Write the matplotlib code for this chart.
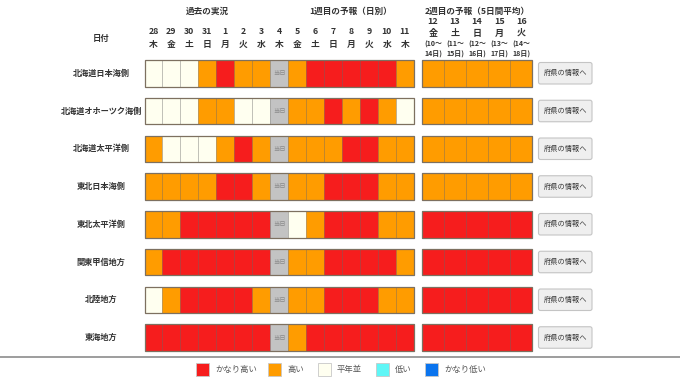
import matplotlib
matplotlib.use("Agg")
import matplotlib.pyplot as plt
from matplotlib.patches import Rectangle, FancyBboxPatch

plt.rcParams['font.family'] = ['Noto Sans CJK JP', 'DejaVu Sans']

# regions (rows)
regions = ['北海道日本海側', '北海道オホーツク海側', '北海道太平洋側', '東北日本海側',
           '東北太平洋側', '関東甲信地方', '北陸地方', '東海地方']

# week 1 columns: past observations + daily forecast
days1 = ['28', '29', '30', '31', '1', '2', '3', '4', '5', '6', '7', '8', '9', '10', '11']
wdays1 = ['木', '金', '土', '日', '月', '火', '水', '木', '金', '土', '日', '月', '火', '水', '木']
today_idx = 7

# week 2 columns: 5-day mean forecast
days2 = ['12', '13', '14', '15', '16']
wdays2 = ['金', '土', '日', '月', '火']
range_from = ['(10～', '(11～', '(12～', '(13～', '(14～']
range_to = ['14日)', '15日)', '16日)', '17日)', '18日)']

# levels: 2 かなり高い, 1 高い, 0 平年並, -1 低い, -2 かなり低い, None = 当日
week1 = [
    [0, 0, 0, 1, 2, 1, 1, None, 1, 2, 2, 2, 2, 2, 1],
    [0, 0, 0, 1, 1, 0, 0, None, 1, 1, 2, 1, 2, 1, 0],
    [1, 0, 0, 0, 1, 2, 1, None, 1, 1, 1, 2, 2, 1, 1],
    [1, 1, 1, 1, 2, 2, 1, None, 1, 1, 2, 2, 2, 1, 1],
    [1, 1, 2, 2, 2, 2, 2, None, 0, 1, 2, 2, 2, 1, 1],
    [1, 2, 2, 2, 2, 2, 2, None, 1, 1, 2, 2, 2, 2, 1],
    [0, 1, 2, 2, 2, 2, 1, None, 1, 1, 2, 2, 2, 1, 1],
    [2, 2, 2, 2, 2, 2, 2, None, 1, 2, 2, 2, 2, 2, 2],
]
week2 = [
    [1, 1, 1, 1, 1],
    [1, 1, 1, 1, 1],
    [1, 1, 1, 1, 1],
    [1, 1, 1, 1, 1],
    [2, 2, 2, 2, 2],
    [2, 2, 2, 2, 2],
    [2, 2, 2, 2, 2],
    [2, 2, 2, 2, 2],
]

legend_levels = [2, 1, 0, -1, -2]
legend_labels = ['かなり高い', '高い', '平年並', '低い', 'かなり低い']
level_colors = {2: '#f61d1d', 1: '#ff9c00', 0: '#fffff0', -1: '#5ff6f6', -2: '#0a74ee'}
today_color = '#c3c3c3'

# layout (pixels)
x1, w1 = 144.5, 17.95
x2, w2 = 422, 22.05
y0, pitch, h = 60, 37.75, 26.5
label_x = 101
btn_x, btn_w = 538.5, 53.5

fig = plt.figure(figsize=(6.8, 3.82), dpi=100)
ax = fig.add_axes([0, 0, 1, 1])
ax.set_xlim(0, 680)
ax.set_ylim(382, 0)
ax.axis('off')

txt = '#333333'
bold = dict(fontweight='bold', color=txt, ha='center', va='center')

# headers
ax.text(x1 + 3.5 * w1, 11, '過去の実況', fontsize=6.2, **bold)
ax.text(x1 + 11.5 * w1, 11, '1週目の予報（日別）', fontsize=6.2, **bold)
ax.text(x2 + 2.5 * w2, 11, '2週目の予報（5日間平均）', fontsize=6.2, **bold)
ax.text(label_x, 38, '日付', fontsize=6, **bold)

for i, (d, wd) in enumerate(zip(days1, wdays1)):
    cx = x1 + (i + 0.5) * w1
    ax.text(cx, 32, d, fontsize=6.3, **bold)
    ax.text(cx, 44, wd, fontsize=6.3, **bold)

for i, (d, wd) in enumerate(zip(days2, wdays2)):
    cx = x2 + (i + 0.5) * w2
    ax.text(cx, 22, d, fontsize=6.5, **bold)
    ax.text(cx, 33.5, wd, fontsize=6.5, **bold)
    ax.text(cx, 44.5, range_from[i], fontsize=5, **bold)
    ax.text(cx, 54, range_to[i], fontsize=5, **bold)

# rows
for r, name in enumerate(regions):
    top = y0 + r * pitch
    cy = top + h / 2
    ax.text(label_x, cy, name, fontsize=5.9, **bold)

    for i, lv in enumerate(week1[r]):
        left = x1 + i * w1
        fc = today_color if lv is None else level_colors[lv]
        ax.add_patch(Rectangle((left, top), w1, h, facecolor=fc,
                               edgecolor=(0, 0, 0, 0.2), lw=0.6))
        if lv is None:
            ax.text(left + w1 / 2, cy, '当日', fontsize=4.5, color='#8a8a8a',
                    ha='center', va='center')
    ax.add_patch(Rectangle((x1, top), w1 * len(days1), h, facecolor='none',
                           edgecolor='#7d7060', lw=0.9))

    for i, lv in enumerate(week2[r]):
        left = x2 + i * w2
        ax.add_patch(Rectangle((left, top), w2, h, facecolor=level_colors[lv],
                               edgecolor=(0, 0, 0, 0.2), lw=0.6))
    ax.add_patch(Rectangle((x2, top), w2 * len(days2), h, facecolor='none',
                           edgecolor='#7d7060', lw=0.9))

    # button
    ax.add_patch(FancyBboxPatch((btn_x, top + 2.5), btn_w, h - 5,
                                boxstyle='round,pad=0,rounding_size=2',
                                facecolor='#efefef', edgecolor='#c4c4c4', lw=0.8))
    ax.text(btn_x + btn_w / 2, cy, '府県の情報へ', fontsize=5.2, color='#333333',
            ha='center', va='center')

# separator
ax.plot([0, 680], [356.5, 356.5], color='#8c8c8c', lw=1.2)

# legend
leg_x = [196, 268, 318, 376, 425]
for lx, lv, lab in zip(leg_x, legend_levels, legend_labels):
    ax.add_patch(Rectangle((lx, 363), 12.5, 12.5, facecolor=level_colors[lv],
                           edgecolor='#c8c8c8', lw=0.6))
    ax.text(lx + 19, 369.5, lab, fontsize=6, color='#555555', ha='left', va='center')

fig.savefig('out.png', dpi=100)
